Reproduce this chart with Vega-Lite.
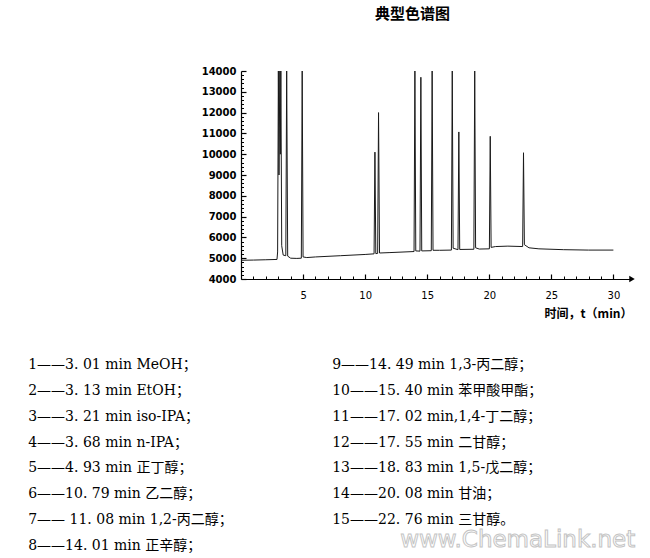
{
  "$schema": "https://vega.github.io/schema/vega-lite/v6.json",
  "background": "white",
  "padding": {"left": 28, "top": 7, "right": 5, "bottom": 5},
  "spacing": 39,
  "config": {"view": {"stroke": null}},
  "vconcat": [
    {
      "width": 391,
      "height": 208,
      "title": {"text": "典型色谱图", "font": "Noto Sans CJK SC", "fontSize": 15, "fontWeight": "bold", "anchor": "middle", "dx": -24, "offset": 44, "color": "#000"},
      "resolve": {"axis": {"x": "independent", "y": "independent"}},
      "layer": [
        {
          "data": {"values": [
            {"t": 0, "signal": 4900}, {"t": 1, "signal": 4910}, {"t": 2, "signal": 4925}, {"t": 2.9, "signal": 4940},
            {"t": 2.95, "signal": 5300}, {"t": 3.01, "signal": 14000}, {"t": 3.06, "signal": 9000},
            {"t": 3.13, "signal": 14000}, {"t": 3.17, "signal": 10000}, {"t": 3.21, "signal": 14000},
            {"t": 3.28, "signal": 5600}, {"t": 3.4, "signal": 5150}, {"t": 3.61, "signal": 5120},
            {"t": 3.68, "signal": 14000}, {"t": 3.76, "signal": 5100}, {"t": 4.0, "signal": 5000},
            {"t": 4.5, "signal": 4990}, {"t": 4.86, "signal": 5000}, {"t": 4.93, "signal": 14000},
            {"t": 5.0, "signal": 5060}, {"t": 5.3, "signal": 5030}, {"t": 6, "signal": 5060},
            {"t": 8, "signal": 5120}, {"t": 10, "signal": 5180}, {"t": 10.72, "signal": 5210},
            {"t": 10.79, "signal": 10100}, {"t": 10.86, "signal": 5220}, {"t": 11.01, "signal": 5230},
            {"t": 11.08, "signal": 12000}, {"t": 11.16, "signal": 5250}, {"t": 12, "signal": 5270},
            {"t": 13.94, "signal": 5320}, {"t": 14.01, "signal": 14000}, {"t": 14.08, "signal": 5350},
            {"t": 14.42, "signal": 5340}, {"t": 14.49, "signal": 13700}, {"t": 14.56, "signal": 5350},
            {"t": 15.33, "signal": 5360}, {"t": 15.4, "signal": 14000}, {"t": 15.47, "signal": 5380},
            {"t": 16, "signal": 5380}, {"t": 16.95, "signal": 5390}, {"t": 17.02, "signal": 14000},
            {"t": 17.09, "signal": 5480}, {"t": 17.48, "signal": 5410}, {"t": 17.55, "signal": 11070},
            {"t": 17.62, "signal": 5420}, {"t": 18.76, "signal": 5430}, {"t": 18.83, "signal": 14000},
            {"t": 18.9, "signal": 5500}, {"t": 19.2, "signal": 5440}, {"t": 20.01, "signal": 5450},
            {"t": 20.08, "signal": 10860}, {"t": 20.15, "signal": 5520}, {"t": 20.5, "signal": 5560},
            {"t": 21.5, "signal": 5580}, {"t": 22.69, "signal": 5560}, {"t": 22.76, "signal": 10070},
            {"t": 22.83, "signal": 5650}, {"t": 23.2, "signal": 5500}, {"t": 24, "signal": 5450},
            {"t": 26, "signal": 5410}, {"t": 28, "signal": 5390}, {"t": 30, "signal": 5390}
          ]},
          "mark": {"type": "line", "color": "#1a1a1a", "strokeWidth": 1, "clip": true},
          "encoding": {
            "x": {
              "field": "t", "type": "quantitative",
              "scale": {"domain": [0, 31.5], "nice": false},
              "axis": {
                "orient": "bottom",
                "values": [5, 10, 15, 20, 25, 30],
                "tickSize": -5,
                "labelPadding": 16,
                "labelOverlap": false,
                "labelFlush": false,
                "grid": false,
                "domainColor": "#000", "domainWidth": 1.2,
                "tickColor": "#000", "tickWidth": 1.2,
                "labelFont": "DejaVu Sans", "labelFontSize": 10, "labelColor": "#000",
                "title": "时间，t（min）", "titleAnchor": "end",
                "titleFont": "Noto Sans CJK SC", "titleFontSize": 12, "titleFontWeight": "bold", "titleColor": "#000",
                "titlePadding": 8
              }
            },
            "y": {
              "field": "signal", "type": "quantitative",
              "scale": {"domain": [4000, 14000], "nice": false, "zero": false},
              "axis": {
                "orient": "left",
                "values": [4000, 5000, 6000, 7000, 8000, 9000, 10000, 11000, 12000, 13000, 14000],
                "format": "d",
                "tickSize": -5,
                "labelPadding": 10,
                "labelOverlap": false,
                "labelFlush": false,
                "grid": false,
                "domainColor": "#000", "domainWidth": 1.2,
                "tickColor": "#000", "tickWidth": 1.2,
                "labelFont": "DejaVu Sans", "labelFontSize": 10, "labelFontWeight": "bold", "labelColor": "#000",
                "title": null
              }
            }
          }
        },
        {
          "data": {"values": [{"t": 31.5, "signal": 4000}]},
          "mark": {"type": "point", "shape": "triangle-right", "filled": true, "color": "#000", "size": 40, "opacity": 1, "clip": false},
          "encoding": {
            "x": {
              "field": "t", "type": "quantitative",
              "axis": {
                "orient": "bottom",
                "values": [1,2,3,4,6,7,8,9,11,12,13,14,16,17,18,19,21,22,23,24,26,27,28,29],
                "tickSize": -3, "tickColor": "#000", "tickWidth": 1,
                "labels": false, "domain": false, "grid": false, "title": null
              }
            },
            "y": {
              "field": "signal", "type": "quantitative",
              "axis": {
                "orient": "left",
                "values": [4200,4400,4600,4800,5200,5400,5600,5800,6200,6400,6600,6800,7200,7400,7600,7800,8200,8400,8600,8800,9200,9400,9600,9800,10200,10400,10600,10800,11200,11400,11600,11800,12200,12400,12600,12800,13200,13400,13600,13800],
                "tickSize": -2.5, "tickColor": "#000", "tickWidth": 1,
                "labels": false, "domain": false, "grid": false, "title": null
              }
            }
          }
        }
      ]
    },
    {
      "width": 304,
      "height": 181,
      "layer": [
        {
          "data": {"values": [
            {"col": 0, "row": 1, "label": "1——3. 01 min MeOH；"},
            {"col": 0, "row": 2, "label": "2——3. 13 min EtOH；"},
            {"col": 0, "row": 3, "label": "3——3. 21 min iso-IPA；"},
            {"col": 0, "row": 4, "label": "4——3. 68 min n-IPA；"},
            {"col": 0, "row": 5, "label": "5——4. 93 min 正丁醇；"},
            {"col": 0, "row": 6, "label": "6——10. 79 min 乙二醇；"},
            {"col": 0, "row": 7, "label": "7—— 11. 08 min 1,2-丙二醇；"},
            {"col": 0, "row": 8, "label": "8——14. 01 min 正辛醇；"},
            {"col": 1, "row": 1, "label": "9——14. 49 min 1,3-丙二醇；"},
            {"col": 1, "row": 2, "label": "10——15. 40 min 苯甲酸甲酯；"},
            {"col": 1, "row": 3, "label": "11——17. 02 min,1,4-丁二醇；"},
            {"col": 1, "row": 4, "label": "12——17. 55 min 二甘醇；"},
            {"col": 1, "row": 5, "label": "13——18. 83 min 1,5-戊二醇；"},
            {"col": 1, "row": 6, "label": "14——20. 08 min 甘油；"},
            {"col": 1, "row": 7, "label": "15——22. 76 min 三甘醇。"}
          ]},
          "mark": {"type": "text", "align": "left", "baseline": "middle", "font": "DejaVu Serif, Noto Sans CJK SC", "fontSize": 14, "color": "#000"},
          "encoding": {
            "x": {"field": "col", "type": "quantitative", "scale": {"domain": [0.7, 1.7], "nice": false, "zero": false}, "axis": null},
            "y": {"field": "row", "type": "quantitative", "scale": {"domain": [1, 8], "reverse": true, "nice": false, "zero": false}, "axis": null},
            "text": {"field": "label"}
          }
        },
        {
          "data": {"values": [{"col": 1, "row": 8, "label": "www.ChemaLink.net"}]},
          "mark": {"type": "text", "align": "left", "baseline": "middle", "font": "DejaVu Sans", "fontSize": 23, "color": "#ffffff", "stroke": "#c4c4c4", "strokeWidth": 1, "dx": 68, "dy": -6},
          "encoding": {
            "x": {"field": "col", "type": "quantitative"},
            "y": {"field": "row", "type": "quantitative"},
            "text": {"field": "label"}
          }
        }
      ]
    }
  ]
}
